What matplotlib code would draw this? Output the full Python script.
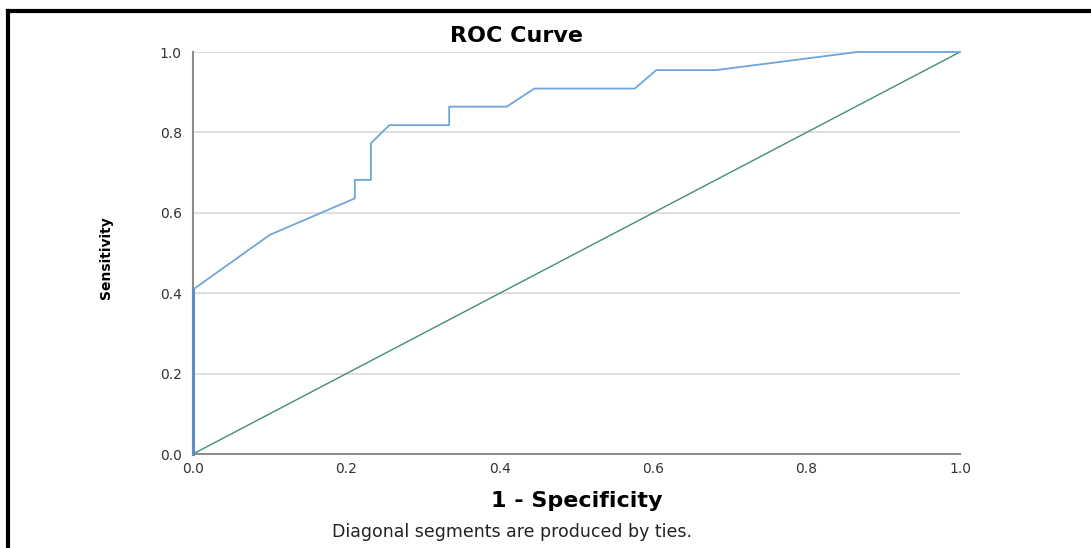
import matplotlib
matplotlib.use('Agg')
import matplotlib.pyplot as plt
from matplotlib.lines import Line2D

# ROC curve points
fpr = [0.0, 0.0, 0.10, 0.211, 0.211, 0.219, 0.219, 0.232, 0.232, 0.256, 0.334, 0.334,
       0.409, 0.445, 0.576, 0.604, 0.682, 0.866, 1.0]
tpr = [0.0, 0.409, 0.545, 0.636, 0.682, 0.682, 0.682, 0.682, 0.773, 0.818, 0.818, 0.864,
       0.864, 0.909, 0.909, 0.955, 0.955, 1.0, 1.0]
ref_x = [0.0, 1.0]
ref_y = [0.0, 1.0]
ticks = [0.0, 0.2, 0.4, 0.6, 0.8, 1.0]
tick_labels = ['0.0', '0.2', '0.4', '0.6', '0.8', '1.0']

W, H = 1091, 548
fig = plt.figure(figsize=(W / 100, H / 100), dpi=100)
ax = fig.add_axes([193 / W, 1 - 454 / H, 767 / W, 402 / H])

for t in ticks[1:]:
    ax.axhline(t, color='#d9d9d9', lw=1.2, zorder=0)

ax.plot(ref_x, ref_y, color='#3f8f74', lw=1.0, zorder=2)
ax.plot(fpr, tpr, color='#6fa6d8', lw=1.3, zorder=4, clip_on=False)
# the first vertical run sits on the axis line and looks heavier there
ax.plot(fpr[:2], tpr[:2], color='#5b8fbf', lw=2.2, zorder=4, clip_on=False)

ax.set_xlim(0, 1)
ax.set_ylim(0, 1)
ax.set_xticks(ticks)
ax.set_yticks(ticks)
ax.set_xticklabels(tick_labels)
ax.set_yticklabels(tick_labels)
ax.tick_params(length=0, labelsize=10, colors='#333333')
ax.tick_params(axis='x', pad=6)
ax.tick_params(axis='y', pad=8)
for s in ['top', 'right']:
    ax.spines[s].set_visible(False)
for s in ['left', 'bottom']:
    ax.spines[s].set_color('#8c8c8c')
    ax.spines[s].set_linewidth(1.5)
    ax.spines[s].set_zorder(3)

fig.text(517 / W, 1 - 36 / H, 'ROC Curve', ha='center', va='center',
         fontsize=16, fontweight='bold')
fig.text(577 / W, 1 - 501 / H, '1 - Specificity', ha='center', va='center',
         fontsize=16, fontweight='bold')
fig.text(106 / W, 1 - 258 / H, 'Sensitivity', ha='center', va='center', rotation=90,
         fontsize=10, fontweight='bold')
fig.text(512 / W, 1 - 532 / H, 'Diagonal segments are produced by ties.', ha='center',
         va='center', fontsize=12.5, color='#222222')

# black frame on the top and left edges
fig.add_artist(Line2D([8 / W, 1], [1 - 11 / H, 1 - 11 / H], color='black', lw=3,
                      transform=fig.transFigure))
fig.add_artist(Line2D([8 / W, 8 / W], [0, 1 - 11 / H], color='black', lw=3,
                      transform=fig.transFigure))

fig.savefig('out.png', dpi=100)
